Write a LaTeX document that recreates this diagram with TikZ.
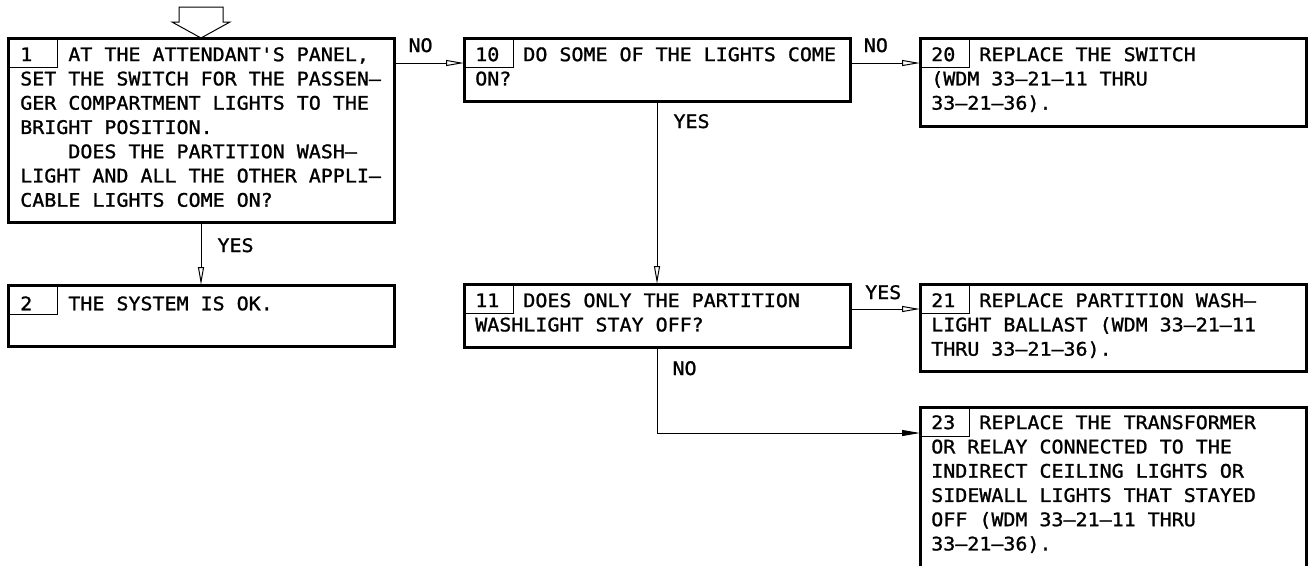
\documentclass[tikz,border=0pt]{standalone}
\usepackage{fontspec}
\usetikzlibrary{arrows.meta,calc}
\newfontfamily\chartfont{DejaVu Sans Mono}[FakeStretch=1.07,FakeBold=1.2]
\newcommand\chartsize{\chartfont\fontsize{14}{18.2}\selectfont}

\begin{document}
\begin{tikzpicture}[x=.75pt,y=-.75pt,
  blk/.style={draw,line width=2.25pt,anchor=north west,minimum width=289.5pt,inner sep=0,outer sep=0},
  cell/.style={draw,line width=.6pt,anchor=north west,minimum width=36.75pt,minimum height=21.75pt,inner sep=0,outer sep=0},
  txt/.style={anchor=north west,inner sep=0,align=left,font=\chartsize,
    execute at begin node={\rule{0pt}{12pt}}},
  lbl/.style={anchor=base west,inner sep=0,font=\chartsize},
  flow/.style={-{Triangle[open,length=13.5pt,width=4.5pt]},line width=.75pt},
  flowf/.style={-{Triangle[length=13.5pt,width=4.5pt]},line width=.75pt}]
 \useasboundingbox (0,0) rectangle (1309,565);
 \clip (0,0) rectangle (1309,565);
 \foreach \n/\x/\y/\h in {b1/8/38/184, b10/464/38/63, b20/920/38/88,
     b2/8/285/61, b11/464/284/63, b21/920/284/87, b23/920/407/170}{
   \node[blk,minimum height=\h*.75pt] (\n) at (\x,\y) {};
   \node[cell] (c\n) at (\n.north west) {};
 }
 % box texts (first baseline 16 below the node top)
 \node[txt] (t1) at ($(b1.north west)+(12,9)$) {1\phantom{000}AT THE ATTENDANT'S PANEL,\\SET THE SWITCH FOR THE PASSEN–\\GER COMPARTMENT LIGHTS TO THE\\BRIGHT POSITION.\\\phantom{0000}DOES THE PARTITION WASH–\\LIGHT AND ALL THE OTHER APPLI–\\CABLE LIGHTS COME ON?};
 \node[txt] (t10) at ($(b10.north west)+(11,9)$) {10\phantom{00}DO SOME OF THE LIGHTS COME\\ON?};
 \node[txt] (t20) at ($(b20.north west)+(11,9)$) {20\phantom{00}REPLACE THE SWITCH\\(WDM 33–21–11 THRU\\33–21–36).};
 \node[txt] (t2) at ($(b2.north west)+(12,9)$) {2\phantom{000}THE SYSTEM IS OK.};
 \node[txt] (t11) at ($(b11.north west)+(11,9)$) {11\phantom{00}DOES ONLY THE PARTITION\\WASHLIGHT STAY OFF?};
 \node[txt] (t21) at ($(b21.north west)+(11,9)$) {21\phantom{00}REPLACE PARTITION WASH–\\LIGHT BALLAST (WDM 33–21–11\\THRU 33–21–36).};
 \node[txt] (t23) at ($(b23.north west)+(11,8)$) {23\phantom{00}REPLACE THE TRANSFORMER\\OR RELAY CONNECTED TO THE\\INDIRECT CEILING LIGHTS OR\\SIDEWALL LIGHTS THAT STAYED\\OFF (WDM 33–21–11 THRU\\33–21–36).};
 % entry arrow
 \draw[line width=.75pt] (b1.north) -- ++(-29,-16) -- ++(7,0) -- ++(0,-15) -- ++(44,0)
   -- ++(0,15) -- ++(7,0) -- cycle;
 % connectors
 \coordinate (i10) at ($(b10.north west)+(0,25)$);
 \coordinate (i20) at ($(b20.north west)+(0,25)$);
 \coordinate (i21) at ($(b21.north west)+(0,25)$);
 \coordinate (i23) at ($(b23.north west)+(0,26)$);
 \draw[flow] (b1.east |- i10) -- node[lbl,at start,xshift=10.5pt,yshift=8.25pt] {NO} (i10);
 \draw[flow] (b10.east |- i20) -- node[lbl,at start,xshift=10pt,yshift=8.25pt] {NO} (i20);
 \draw[flow] (b11.east |- i21) -- node[lbl,at start,xshift=11pt,yshift=7.5pt] {YES} (i21);
 \draw[flow] (b1.south) -- node[lbl,at start,xshift=12pt,yshift=-22.5pt] {YES} (b2.north);
 \draw[flow] (b10.south) -- node[lbl,at start,xshift=12pt,yshift=-20.25pt] {YES} (b11.north);
 \draw[flowf] (b11.south) |- node[lbl,at start,xshift=11.25pt,yshift=-21pt] {NO} (i23);
\end{tikzpicture}
\end{document}
